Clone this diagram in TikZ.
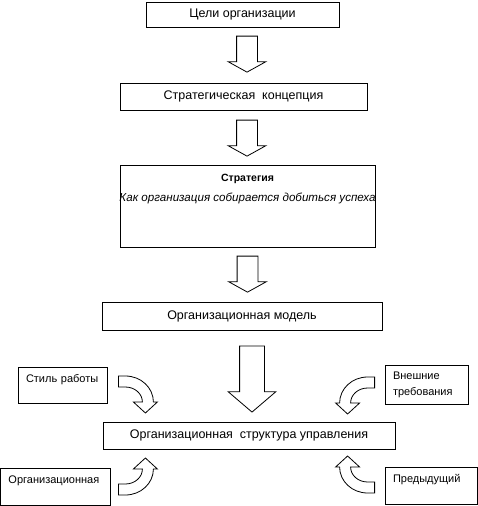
\documentclass[tikz,border=0pt]{standalone}
\usepackage{fontspec}
\setmainfont{Liberation Sans}
\usetikzlibrary{shapes.arrows,positioning,calc}
\tikzset{
  mainbox/.style={draw,rectangle,line width=0.8pt,align=center,font=\fontsize{12.5}{14}\selectfont},
  sidebox/.style={draw,rectangle,line width=0.8pt,align=left,inner xsep=8pt,font=\fontsize{11}{16}\selectfont},
  toptxt/.style={text depth=14pt},
  txt/.style={inner sep=0pt},
  blkarr/.style={single arrow,draw,line width=0.8pt,fill=white,rotate=-90,anchor=tip,
    inner xsep=0pt,inner ysep=10pt,minimum height=36pt,minimum width=37pt,
    single arrow head extend=8.5pt,single arrow tip angle=122},
  bigarr/.style={blkarr,inner ysep=12pt,minimum height=66pt,minimum width=47pt,
    single arrow head extend=11.5pt,single arrow tip angle=99},
  bendarr/.pic={
    \draw[line width=0.8pt,fill=white] (0,0) -- (7,0)
      arc[start angle=270,end angle=360,x radius=28,y radius=26] -- (39,26) -- (27,37)
      -- (15,26) -- (24,26) arc[start angle=360,end angle=270,x radius=17,y radius=15]
      -- (0,11) -- cycle;
  }
}
\begin{document}
\begin{tikzpicture}[x=1pt,y=-1pt]
  \useasboundingbox (0,0) rectangle (478,506);

  % main chain
  \node[mainbox,minimum width=193pt,minimum height=25pt] (goals) at (242.5,14.5) {Цели организации};
  \node[mainbox,minimum width=247pt,minimum height=27pt] (concept) at (243.5,96.5) {Стратегическая~~концепция};
  \node[mainbox,minimum width=255pt,minimum height=82pt] (strat) at (247.5,206) {};
  \node[txt,font=\fontsize{10.5}{12}\selectfont\bfseries,below=9pt of strat.north] (strattitle) {Стратегия};
  \node[txt,font=\fontsize{11.6}{14}\selectfont\itshape,below=9.5pt of strattitle] (stratdesc) {Как организация собирается добиться успеха};
  \node[mainbox,minimum width=280pt,minimum height=28pt] (model) at (242,316) {Организационная модель};
  \node[mainbox,minimum width=292pt,minimum height=27pt] (struct) at (249,435.5) {Организационная~~структура управления};

  % side factors
  \node[sidebox,toptxt,text width=73pt,minimum height=36pt] (workstyle) at (62.5,385) {Стиль работы};
  \node[sidebox,text width=67pt,minimum height=39pt] (external) at (426.5,384.5) {Внешние\\требования};
  \node[sidebox,toptxt,text width=94pt,minimum height=37pt] (orgside) at (55.5,486.5) {Организационная};
  \node[sidebox,toptxt,text width=76pt,minimum height=37pt] (previous) at (431,485.5) {Предыдущий};

  % block arrows
  \node[blkarr] (goals2concept) at ([xshift=3.5pt,yshift=10pt]concept.north) {};
  \node[blkarr] (concept2strat) at ([xshift=-0.5pt,yshift=8pt]strat.north) {};
  \node[blkarr] (strat2model) at ([xshift=5.5pt,yshift=9pt]model.north) {};
  \node[bigarr] (model2struct) at ([xshift=3pt,yshift=9pt]struct.north) {};

  \pic at ([xshift=11pt,yshift=9pt]workstyle.east) {bendarr};
  \pic[xscale=-1] at ([xshift=-10pt,yshift=7.5pt]external.west) {bendarr};
  \pic[yscale=-1] at ([xshift=7.5pt,yshift=-8.5pt]orgside.east) {bendarr};
  \pic[xscale=-1,yscale=-1] at ([xshift=-10pt,yshift=-7.5pt]previous.west) {bendarr};
\end{tikzpicture}
\end{document}
